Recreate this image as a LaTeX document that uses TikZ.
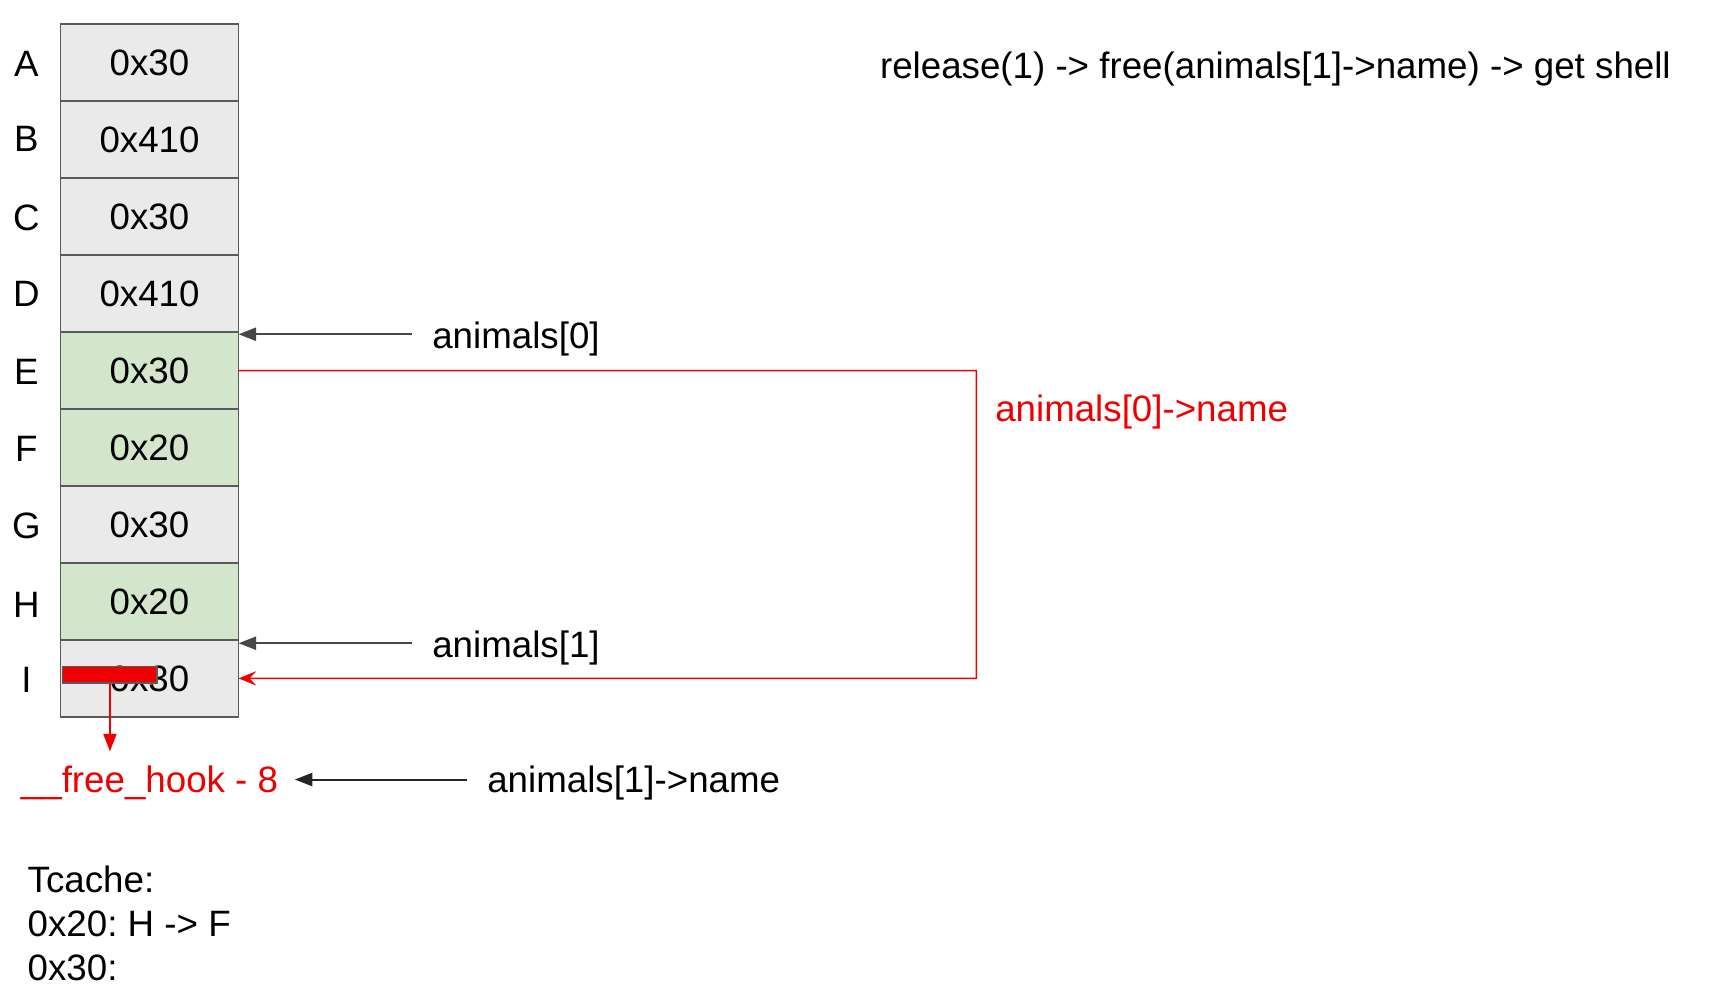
\documentclass[tikz,border=0pt]{standalone}
\usepackage{fontspec}
\setmainfont{Liberation Sans}
\usetikzlibrary{arrows.meta,positioning}
\definecolor{chunkgray}{HTML}{EAEAEA}
\definecolor{chunkgreen}{HTML}{D3E5CB}
\definecolor{edgegray}{HTML}{5A5A5A}
\definecolor{ptrgray}{HTML}{474747}
\definecolor{hookred}{HTML}{EE0000}
\frenchspacing

\begin{document}
\begin{tikzpicture}[x=0.2mm,y=-0.2mm,
  every node/.style={font=\fontsize{19}{22.8}\selectfont},
  chunk/.style={draw=edgegray,line width=0.8pt,fill=chunkgray,minimum width=3.24cm,minimum height=1.4cm,inner sep=0pt,outer sep=0pt},
  freed/.style={chunk,fill=chunkgreen},
  bar/.style={draw=edgegray,line width=0.8pt,fill=hookred,minimum width=1.72cm,minimum height=0.3cm,inner sep=0pt},
  ptr/.style={draw=ptrgray,line width=1pt,-{Triangle[length=0.32cm,width=0.24cm]}},
  redline/.style={draw=hookred,line width=0.8pt,-{Stealth[length=0.32cm,width=0.26cm,inset=0.12cm]}},
  redptr/.style={draw=hookred,fill=hookred,line width=0.8pt,-{Triangle[length=0.32cm,width=0.24cm]}}]
\useasboundingbox (0,0) rectangle (1568,911);

\node[chunk] (A) at (136,57) {0x30};
\node[chunk,below=0pt of A] (B) {0x410};
\node[chunk,below=0pt of B] (C) {0x30};
\node[chunk,below=0pt of C] (D) {0x410};
\node[freed,below=0pt of D] (E) {0x30};
\node[freed,below=0pt of E] (F) {0x20};
\node[chunk,below=0pt of F] (G) {0x30};
\node[freed,below=0pt of G] (H) {0x20};
\node[chunk,below=0pt of H] (I) {0x30};

\node (la) at (24,58) {A};
\node (lb) at (24,126) {B};
\node (lc) at (24,198) {C};
\node (ld) at (24,267) {D};
\node (le) at (24,338) {E};
\node (lf) at (24,408) {F};
\node (lg) at (24,478) {G};
\node (lh) at (24,550) {H};
\node (li) at (24,618) {I};

\node[bar] (fd) at (100,613.5) {};

\node (goal) at (1160,63) {release(1) -> free(animals[1]->name) -> get shell};

\node[anchor=west] (arr0) at (387,308) {animals[0]};
\node[anchor=west] (arr1) at (387,589) {animals[1]};
\node[anchor=west,text=hookred] (name0) at (899,375) {animals[0]->name};
\node[text=hookred] (hook) at (136,712) {\_\_free\_hook - 8};
\node[anchor=west] (name1) at (437,712) {animals[1]->name};
\node[anchor=north west,align=left] (tcache) at (19,781) {Tcache:\\0x20: H -> F\\0x30:};

\coordinate (bend) at (888,337);

\path[ptr] ([xshift=-2.4mm,yshift=-0.4mm]arr0.west |- D.south east) -- ([yshift=-0.4mm]D.south east);
\path[ptr] ([xshift=-2.4mm,yshift=-0.6mm]arr1.west |- H.south east) -- ([yshift=-0.6mm]H.south east);
\path[ptr,draw=black!85] ([xshift=-2.4mm,yshift=0.6mm]name1.west) -- ([xshift=1.8mm,yshift=0.6mm]hook.east);
\path[redline] (E.east) -- (bend) |- (I.east);
\path[redptr,shorten >=1.4mm] (fd.south) -- (fd.south |- hook.north);
\end{tikzpicture}
\end{document}
